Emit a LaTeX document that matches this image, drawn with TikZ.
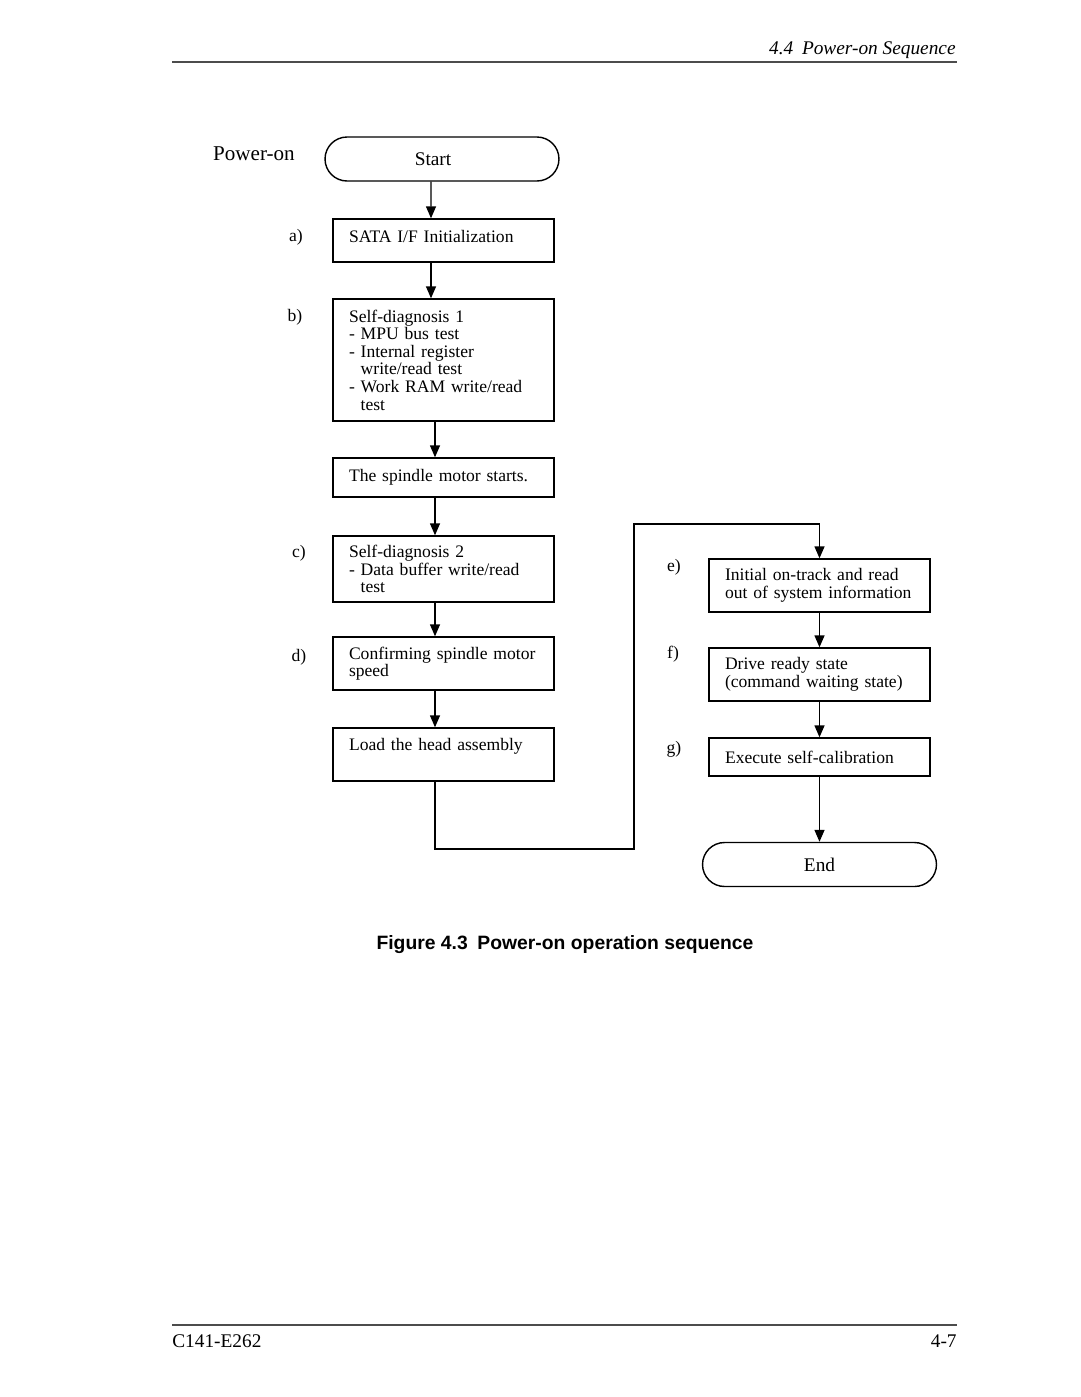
\documentclass[tikz,border=0pt]{standalone}
\usepackage{fontspec}
\setmainfont{Liberation Serif}
\setsansfont{Liberation Sans}
\usetikzlibrary{arrows.meta}
\newcommand{\ind}{\hphantom{-\ }}
\begin{document}
\begin{tikzpicture}[x=0.02cm,y=-0.02cm,
  box/.style={draw,line width=0.8pt,text width=3.78cm,inner xsep=0.32cm,inner ysep=2pt,align=left,font=\fontsize{10}{10}\selectfont},
  term/.style={draw,line width=0.8pt,rounded corners=0.44cm,minimum width=4.68cm,minimum height=0.88cm,font=\fontsize{11}{13}\selectfont},
  tag/.style={font=\fontsize{10}{12}\selectfont},
  arr/.style={line width=0.8pt,-{Triangle[length=0.24cm,width=0.2cm]}}]
  \useasboundingbox (0,0) rectangle (1080,1397);
  % page head and foot
  \draw[line width=1.3pt,black!70] (172,62) -- (957,62);
  \node[anchor=base east,inner sep=0,font=\fontsize{11}{13}\selectfont\itshape] (head) at (956,54) {4.4\hspace{0.45em}Power-on Sequence};
  \draw[line width=1.3pt,black!70] (172,1325) -- (957,1325);
  \node[anchor=base west,inner sep=0,font=\fontsize{11}{13}\selectfont] (docno) at (172,1347) {C141-E262};
  \node[anchor=base east,inner sep=0,font=\fontsize{11}{13}\selectfont] (pageno) at (957,1347) {4-7};
  % terminals
  \node[anchor=base,font=\fontsize{12}{14}\selectfont] (poweron) at (254,160) {Power-on};
  \node[term] (start) at (442,159) {\hspace{-0.36cm}Start};
  \node[term] (end) at (819.5,864.5) {End};
  % left column
  \node[box,minimum height=0.86cm,text depth=5pt] (sata) at (443.5,240.5) {SATA I/F Initialization};
  \node[box,minimum height=2.44cm] (diag1) at (443.5,360) {Self-diagnosis 1\\- MPU bus test\\- Internal register\\\ind write/read test\\- Work RAM write/read\\\ind test};
  \node[box,minimum height=0.78cm] (spindle) at (443.5,477.5) {The spindle motor starts.};
  \node[box,minimum height=1.32cm] (diag2) at (443.5,569) {Self-diagnosis 2\\- Data buffer write/read\\\ind test};
  \node[box,minimum height=1.06cm] (speed) at (443.5,663.5) {Confirming spindle motor\\speed};
  \node[box,minimum height=1.06cm,text depth=11pt] (load) at (443.5,754.5) {Load the head assembly};
  % right column
  \node[box,minimum height=1.06cm] (ontrack) at (819.5,585.5) {Initial on-track and read\\out of system information};
  \node[box,minimum height=1.06cm] (ready) at (819.5,674.5) {Drive ready state\\(command waiting state)};
  \node[box,minimum height=0.76cm] (calib) at (819.5,757) {Execute self-calibration};
  % step tags
  \node[tag] (tga) at (296,237) {a)};
  \node[tag] (tgb) at (295,317) {b)};
  \node[tag] (tgc) at (299,553) {c)};
  \node[tag] (tgd) at (299,657) {d)};
  \node[tag] (tge) at (674,567) {e)};
  \node[tag] (tgf) at (673,654) {f)};
  \node[tag] (tgg) at (674,749) {g)};
  % connectors
  \draw[arr] ([xshift=-0.22cm]start.south) -- ([xshift=-0.25cm]sata.north);
  \draw[arr] ([xshift=-0.25cm]sata.south) -- ([xshift=-0.25cm]diag1.north);
  \draw[arr] ([xshift=-0.17cm]diag1.south) -- ([xshift=-0.17cm]spindle.north);
  \draw[arr] ([xshift=-0.17cm]spindle.south) -- ([xshift=-0.17cm]diag2.north);
  \draw[arr] ([xshift=-0.17cm]diag2.south) -- ([xshift=-0.17cm]speed.north);
  \draw[arr] ([xshift=-0.17cm]speed.south) -- ([xshift=-0.17cm]load.north);
  \draw[arr] ([xshift=-0.17cm]load.south) |- (634,849) -- (634,524) -| (ontrack.north);
  \draw[arr] (ontrack.south) -- (ready.north);
  \draw[arr] (ready.south) -- (calib.north);
  \draw[arr] (calib.south) -- (end.north);
  % caption
  \node[anchor=base,font=\fontsize{11}{13}\selectfont\sffamily\bfseries] (caption) at (565,949) {Figure 4.3\hspace{0.5em}Power-on operation sequence};
\end{tikzpicture}
\end{document}
